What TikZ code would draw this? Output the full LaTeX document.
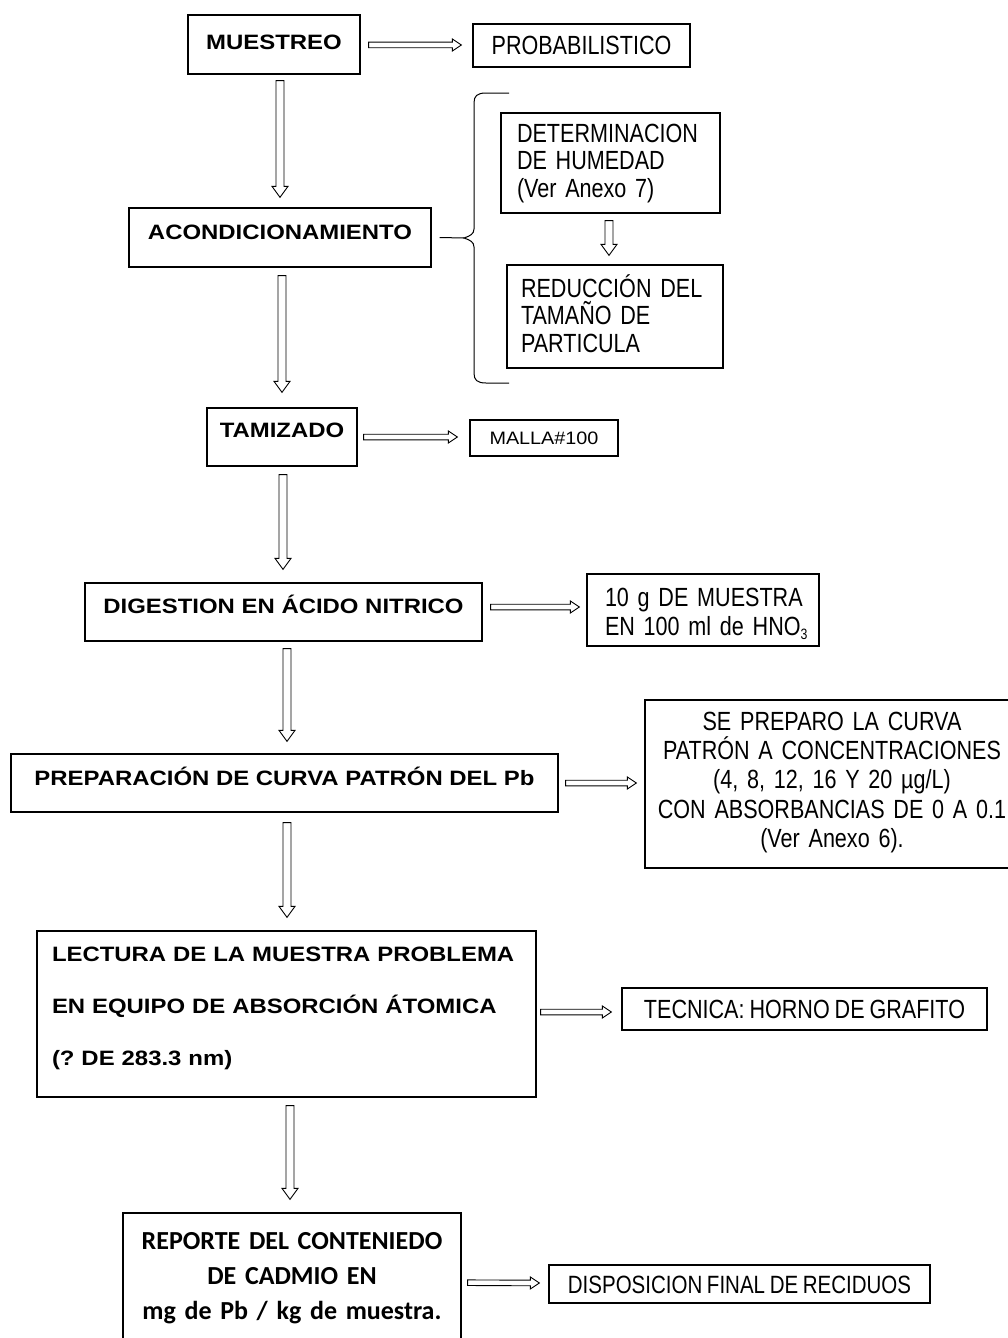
\documentclass[tikz,border=0pt]{standalone}
\usepackage{fontspec}
\usetikzlibrary{calc}
\setmainfont{Liberation Sans}
\newfontfamily\nfont{Liberation Sans}[FakeStretch=0.82,WordSpace=0.82]
\newfontfamily\bfont{Liberation Sans}[FakeStretch=1.15]
\newfontfamily\mfont{Liberation Sans}[FakeStretch=1.1]
\newfontfamily\cfont{Carlito}
\hyphenpenalty=10000
\exhyphenpenalty=10000
\frenchspacing
\tikzset{
  barrow/.style n args={3}{to path={
    (\tikztostart) coordinate (bA) (\tikztotarget) coordinate (bT)
    ($(bT)!#3!(bA)$) coordinate (bH)
    ($(bA)!#1!90:(bH)$) -- ($(bH)!#1!-90:(bA)$) -- ($(bH)!#2!-90:(bA)$) -- (bT)
    -- ($(bH)!#2!90:(bA)$) -- ($(bH)!#1!90:(bA)$) -- ($(bA)!#1!-90:(bH)$) -- cycle
  }},
  harr/.style={draw, line width=0.9pt, line join=miter, barrow={2.8pt}{6pt}{9pt}},
  varr/.style={draw, line width=0.9pt, line join=miter, barrow={4pt}{8pt}{11pt}},
  box/.style={draw, line width=1.3pt, inner ysep=0pt, inner xsep=0pt, anchor=base},
  bold/.style={font=\bfont\bfseries\fontsize{20.8}{25}\selectfont},
  norm/.style={font=\nfont\fontsize{26.3}{27.5}\selectfont},
}
\begin{document}
\begin{tikzpicture}[x=1pt,y=-1pt]
\useasboundingbox (0,0) rectangle (1008,1338);
\fill[white] (0,0) rectangle (1008,1338);
\clip (0,0) rectangle (1008,1338);

% main column
\node[box,bold,minimum width=172pt,text height=34.5pt,text depth=24.5pt] (m) at (274,49.5) {MUESTREO};
\node[box,norm,minimum width=217pt,text height=30.4pt,text depth=12.6pt] (prob) at (581.5,54.4) {PROBABILISTICO};
\node[box,bold,minimum width=302pt,text height=31.5pt,text depth=27.5pt] (a) at (280,239.5) {ACONDICIONAMIENTO};
\node[box,norm,inner xsep=16pt,text width=187pt,align=left,text height=29.4pt,text depth=70.6pt] (det) at (610.5,142.4) {\mbox{DETERMINACION}\\\mbox{DE HUMEDAD}\\\mbox{(Ver Anexo 7)}};
\node[box,norm,inner xsep=14pt,text width=188pt,align=left,text height=32.4pt,text depth=70.6pt] (red) at (615,297.4) {\mbox{REDUCCIÓN DEL}\\\mbox{TAMAÑO DE}\\\mbox{PARTICULA}};
\node[box,bold,minimum width=150pt,text height=29.5pt,text depth=28.5pt] (t) at (282,437.5) {TAMIZADO};
\node[box,font=\mfont\fontsize{18}{20}\selectfont,minimum width=148pt,text height=24.4pt,text depth=11.6pt] (mal) at (544,444.4) {MALLA\#100};
\node[box,bold,minimum width=397pt,text height=30.5pt,text depth=27.5pt] (d) at (283.5,613.5) {DIGESTION EN ÁCIDO NITRICO};
\node[box,font=\nfont\fontsize{26.3}{29}\selectfont,inner xsep=18pt,text width=196pt,align=left,text height=32.4pt,text depth=39.6pt] (g) at (703,606.4) {\mbox{10 g DE MUESTRA}\\\mbox{EN 100 ml de HNO\textsubscript{\fontsize{15}{15}\selectfont 3}}};
\node[box,bold,minimum width=547pt,text height=31.5pt,text depth=26.5pt] (p) at (284.5,785.5) {PREPARACIÓN DE CURVA PATRÓN DEL Pb};
\node[box,font=\nfont\fontsize{26.3}{29.2}\selectfont,inner xsep=10pt,text width=354pt,align=center,text height=30.4pt,text depth=137.6pt] (se) at (832,730.4) {\mbox{SE PREPARO LA CURVA}\\\mbox{PATRÓN A CONCENTRACIONES}\\\mbox{(4, 8, 12, 16 Y 20 µg/L)}\\\mbox{CON ABSORBANCIAS DE 0 A 0.1}\\\mbox{(Ver Anexo 6).}};
\node[box,font=\bfont\bfseries\fontsize{20.8}{52}\selectfont,inner xsep=15pt,text width=469pt,align=left,text height=30.5pt,text depth=135.5pt] (l) at (286.5,961.5) {\mbox{LECTURA DE LA MUESTRA PROBLEMA}\\\mbox{EN EQUIPO DE ABSORCIÓN ÁTOMICA}\\\mbox{(? DE 283.3 nm)}};
\node[box,norm,minimum width=365pt,text height=30.4pt,text depth=11.6pt] (tec) at (804.5,1018.4) {TECNICA: HORNO DE GRAFITO};
\node[box,font=\cfont\bfseries\fontsize{26}{35}\selectfont,inner xsep=10pt,text width=318pt,align=center,text height=36.4pt,text depth=110pt] (r) at (292,1249.4) {\mbox{REPORTE DEL CONTENIEDO}\\\mbox{DE CADMIO EN}\\\mbox{mg de Pb / kg de muestra.}};
\node[box,font=\nfont\fontsize{25}{27}\selectfont,minimum width=381pt,text height=28pt,text depth=10pt] (disp) at (739.5,1293) {DISPOSICION FINAL DE RECIDUOS};

% vertical arrows
\draw[varr] ([xshift=6pt,yshift=-6pt]m.south) to ([yshift=10pt]a.north);
\draw[varr] ([xshift=2pt,yshift=-8pt]a.south) to ([yshift=15pt]t.north);
\draw[varr] ([xshift=1pt,yshift=-8pt]t.south) to ([xshift=-0.5pt,yshift=13pt]d.north);
\draw[varr] ([xshift=3.5pt,yshift=-7pt]d.south) to ([xshift=2.5pt,yshift=12pt]p.north);
\draw[varr] ([xshift=2.5pt,yshift=-10pt]p.south) to ([xshift=0.5pt,yshift=13pt]l.north);
\draw[varr] ([xshift=3.5pt,yshift=-8pt]l.south) to ([xshift=-2pt,yshift=13pt]r.north);
\draw[varr] ([xshift=-1.5pt,yshift=-7pt]det.south) to ([xshift=-6pt,yshift=9pt]red.north);

% horizontal arrows
\draw[harr] ([xshift=8pt,yshift=-0.5pt]m.east) to ([xshift=-11pt,yshift=0.5pt]prob.west);
\draw[harr] ([xshift=6pt]t.east) to ([xshift=-12pt,yshift=1pt]mal.west);
\draw[harr] ([xshift=8pt,yshift=5pt]d.east) to ([xshift=-7pt,yshift=3pt]g.west);
\draw[harr] ([xshift=7pt]p.east) to ([xshift=-8pt,yshift=1pt]se.west);
\draw[harr] ([xshift=4pt,yshift=2pt]l.east) to ([xshift=-10pt,yshift=-3pt]tec.west);
\draw[harr] ([xshift=6pt,yshift=3.5pt]r.east) to ([xshift=-9pt,yshift=1pt]disp.west);

% brace
\coordinate (cusp) at (464,238);
\draw[line width=1pt] ([xshift=8pt]a.east) -- (cusp);
\draw[line width=1pt] (509,93) -- (486,93) .. controls (477,93) and (474,96) .. (474,103) -- (474,229)
  .. controls (474,234) and (470,236) .. (cusp) .. controls (470,240) and (474,242) .. (474,247)
  -- (474,373) .. controls (474,380) and (477,383) .. (486,383) -- (509,383);
\end{tikzpicture}
\end{document}
